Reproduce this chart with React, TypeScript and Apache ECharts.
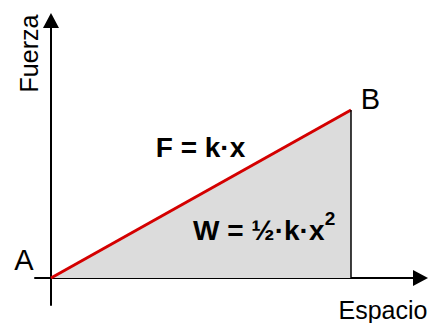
import React, { useEffect, useRef } from "react";
import * as echarts from "echarts";

// Data
const pointNames = ["A", "B"];
const espacio = [0, 10];
const fuerza = [0, 10];
const axisNames = { x: "Espacio", y: "Fuerza" };
const formulaLine = "F = k·x";
const formulaAreaBase = "W = ½·k·x";
const formulaAreaExp = "2";

const FONT = "'Liberation Sans', Arial, sans-serif";

export default function App() {
  const ref = useRef<HTMLDivElement>(null);
  useEffect(() => {
    if (!ref.current) return;
    const chart = echarts.init(ref.current, null, { renderer: "svg" });
    const linePts = espacio.map((x, i) => [x, fuerza[i]]);
    const labelOffsets = [
      [-27.2, -18.5],
      [19.5, -10.5],
    ];
    chart.setOption({
      animation: false,
      backgroundColor: "#ffffff",
      grid: { left: 35, right: 14.5, top: 20.5, bottom: 18, containLabel: false, outerBoundsMode: "none" },
      xAxis: {
        type: "value",
        min: -0.5333,
        max: 12.3167,
        axisLine: {
          show: true,
          onZero: true,
          symbol: ["none", "triangle"],
          symbolSize: [16, 15],
          lineStyle: { color: "#000", width: 2 },
        },
        axisTick: { show: false },
        axisLabel: { show: false },
        splitLine: { show: false },
      },
      yAxis: {
        type: "value",
        min: -1.607,
        max: 15.327,
        axisLine: {
          show: true,
          onZero: true,
          symbol: ["none", "triangle"],
          symbolSize: [16, 15],
          lineStyle: { color: "#000", width: 2 },
        },
        axisTick: { show: false },
        axisLabel: { show: false },
        splitLine: { show: false },
      },
      series: [
        {
          type: "line",
          data: linePts,
          symbol: "none",
          lineStyle: { color: "#d40000", width: 3 },
          areaStyle: { color: "#dcdcdc", opacity: 1 },
          z: 2,
        },
        {
          type: "line",
          data: [
            [espacio[1], 0],
            [espacio[1], fuerza[1]],
          ],
          symbol: "none",
          lineStyle: { color: "#000", width: 1.5 },
          z: 3,
        },
        {
          type: "scatter",
          symbolSize: 1,
          itemStyle: { color: "transparent" },
          data: linePts.map((p, i) => ({
            name: pointNames[i],
            value: p,
            label: { offset: labelOffsets[i] },
          })),
          label: {
            show: true,
            position: "inside",
            formatter: (p: any) => p.name,
            color: "#000",
            textBorderWidth: 0,
            opacity: 1,
            fontSize: 29,
            fontFamily: FONT,
          },
          z: 4,
        },
      ],
      graphic: [
        {
          type: "text",
          x: 28.5,
          y: 53.5,
          z: 100,
          rotation: Math.PI / 2,
          style: {
            text: axisNames.y,
            x: 0,
            y: 0,
            fill: "#000",
            font: `25px ${FONT}`,
            align: "center",
            verticalAlign: "middle",
          },
        },
        {
          type: "text",
          x: 383,
          y: 310,
          z: 100,
          style: {
            text: axisNames.x,
            fill: "#000",
            font: `25px ${FONT}`,
            align: "center",
            verticalAlign: "middle",
          },
        },
        {
          type: "text",
          x: 200.5,
          y: 147.5,
          z: 100,
          style: {
            text: formulaLine,
            fill: "#000",
            font: `bold 28px ${FONT}`,
            align: "center",
            verticalAlign: "middle",
          },
        },
        {
          type: "text",
          x: 193,
          y: 230,
          z: 100,
          style: {
            text: formulaAreaBase,
            fill: "#000",
            font: `bold 28px ${FONT}`,
            align: "left",
            verticalAlign: "middle",
          },
        },
        {
          type: "text",
          x: 330,
          y: 218,
          z: 100,
          style: {
            text: formulaAreaExp,
            fill: "#000",
            font: `bold 19px ${FONT}`,
            align: "center",
            verticalAlign: "middle",
          },
        },
      ],
    });
    return () => chart.dispose();
  }, []);
  return (
    <div
      ref={ref}
      style={{ position: "fixed", left: 0, top: 0, width: 435, height: 323 }}
    />
  );
}
